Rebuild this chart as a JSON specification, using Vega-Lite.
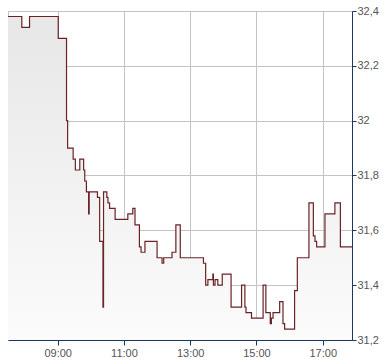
{
  "$schema": "https://vega.github.io/schema/vega-lite/v6.json",
  "width": 344,
  "height": 329,
  "autosize": {"type": "none"},
  "padding": {"left": 8, "top": 11, "right": 38, "bottom": 24},
  "background": "white",
  "config": {"view": {"stroke": "#c4c4c4", "strokeWidth": 1}},
  "data": {
    "format": {"parse": {"time": "utc:'%H:%M'"}},
    "values": [
      {"time": "07:30", "price": 32.38},
      {"time": "07:55", "price": 32.34},
      {"time": "08:09", "price": 32.38},
      {"time": "09:01", "price": 32.30},
      {"time": "09:16", "price": 32.00},
      {"time": "09:18", "price": 31.90},
      {"time": "09:28", "price": 31.86},
      {"time": "09:32", "price": 31.82},
      {"time": "09:40", "price": 31.86},
      {"time": "09:47", "price": 31.82},
      {"time": "09:49", "price": 31.78},
      {"time": "09:52", "price": 31.74},
      {"time": "09:56", "price": 31.66},
      {"time": "09:57", "price": 31.74},
      {"time": "10:12", "price": 31.72},
      {"time": "10:16", "price": 31.56},
      {"time": "10:22", "price": 31.32},
      {"time": "10:23", "price": 31.74},
      {"time": "10:29", "price": 31.72},
      {"time": "10:31", "price": 31.70},
      {"time": "10:34", "price": 31.68},
      {"time": "10:44", "price": 31.64},
      {"time": "11:07", "price": 31.66},
      {"time": "11:16", "price": 31.68},
      {"time": "11:20", "price": 31.62},
      {"time": "11:28", "price": 31.54},
      {"time": "11:31", "price": 31.52},
      {"time": "11:38", "price": 31.56},
      {"time": "12:00", "price": 31.50},
      {"time": "12:09", "price": 31.48},
      {"time": "12:12", "price": 31.50},
      {"time": "12:27", "price": 31.52},
      {"time": "12:34", "price": 31.62},
      {"time": "12:42", "price": 31.50},
      {"time": "13:24", "price": 31.48},
      {"time": "13:28", "price": 31.40},
      {"time": "13:32", "price": 31.42},
      {"time": "13:41", "price": 31.44},
      {"time": "13:42", "price": 31.40},
      {"time": "13:45", "price": 31.42},
      {"time": "13:50", "price": 31.40},
      {"time": "13:58", "price": 31.44},
      {"time": "14:14", "price": 31.32},
      {"time": "14:33", "price": 31.40},
      {"time": "14:39", "price": 31.32},
      {"time": "14:41", "price": 31.30},
      {"time": "14:51", "price": 31.28},
      {"time": "15:12", "price": 31.40},
      {"time": "15:17", "price": 31.30},
      {"time": "15:25", "price": 31.26},
      {"time": "15:27", "price": 31.28},
      {"time": "15:30", "price": 31.30},
      {"time": "15:42", "price": 31.34},
      {"time": "15:48", "price": 31.26},
      {"time": "15:51", "price": 31.24},
      {"time": "16:09", "price": 31.38},
      {"time": "16:14", "price": 31.50},
      {"time": "16:35", "price": 31.70},
      {"time": "16:43", "price": 31.58},
      {"time": "16:46", "price": 31.56},
      {"time": "16:49", "price": 31.54},
      {"time": "17:04", "price": 31.66},
      {"time": "17:22", "price": 31.70},
      {"time": "17:32", "price": 31.54},
      {"time": "17:53", "price": 31.54}
    ]
  },
  "encoding": {
    "x": {
      "field": "time",
      "type": "temporal",
      "scale": {
        "type": "utc",
        "domain": [
          {"year": 1900, "month": 1, "date": 1, "hours": 7, "minutes": 30, "utc": true},
          {"year": 1900, "month": 1, "date": 1, "hours": 17, "minutes": 53, "utc": true}
        ]
      },
      "axis": {
        "title": null,
        "values": [
          {"year": 1900, "month": 1, "date": 1, "hours": 9, "utc": true},
          {"year": 1900, "month": 1, "date": 1, "hours": 11, "utc": true},
          {"year": 1900, "month": 1, "date": 1, "hours": 13, "utc": true},
          {"year": 1900, "month": 1, "date": 1, "hours": 15, "utc": true},
          {"year": 1900, "month": 1, "date": 1, "hours": 17, "utc": true}
        ],
        "format": "%H:%M",
        "grid": true,
        "gridColor": "#c4c4c4",
        "domainColor": "#1c3564",
        "tickColor": "#1c3564",
        "tickSize": 5,
        "labelColor": "#555555",
        "labelFont": "Liberation Sans",
        "labelFontSize": 11,
        "labelPadding": 2,
        "labelFlush": false,
        "labelOverlap": false
      }
    },
    "y": {
      "field": "price",
      "type": "quantitative",
      "scale": {"domain": [31.2, 32.4], "zero": false, "nice": false},
      "axis": {
        "title": null,
        "orient": "right",
        "values": [31.2, 31.4, 31.6, 31.8, 32.0, 32.2, 32.4],
        "labelExpr": "replace(format(datum.value, '.2~f'), '.', ',')",
        "grid": true,
        "gridColor": "#c4c4c4",
        "domainColor": "#1c3564",
        "tickColor": "#1c3564",
        "tickSize": 4,
        "labelColor": "#555555",
        "labelFont": "Liberation Sans",
        "labelFontSize": 11,
        "labelPadding": 1,
        "labelAlign": "left",
        "labelBaseline": "middle",
        "labelFlush": false,
        "labelOverlap": false
      }
    }
  },
  "layer": [
    {
      "mark": {
        "type": "area",
        "interpolate": "step-after",
        "clip": true,
        "fill": {
          "gradient": "linear",
          "x1": 0, "y1": 0, "x2": 0, "y2": 1,
          "stops": [
            {"offset": 0, "color": "#e7e7e7"},
            {"offset": 1, "color": "#fbfbfb"}
          ]
        }
      },
      "encoding": {"y2": {"datum": 31.2}}
    },
    {
      "mark": {
        "type": "line",
        "interpolate": "step-after",
        "clip": true,
        "color": "#6b2226",
        "strokeWidth": 1.2
      }
    }
  ]
}
